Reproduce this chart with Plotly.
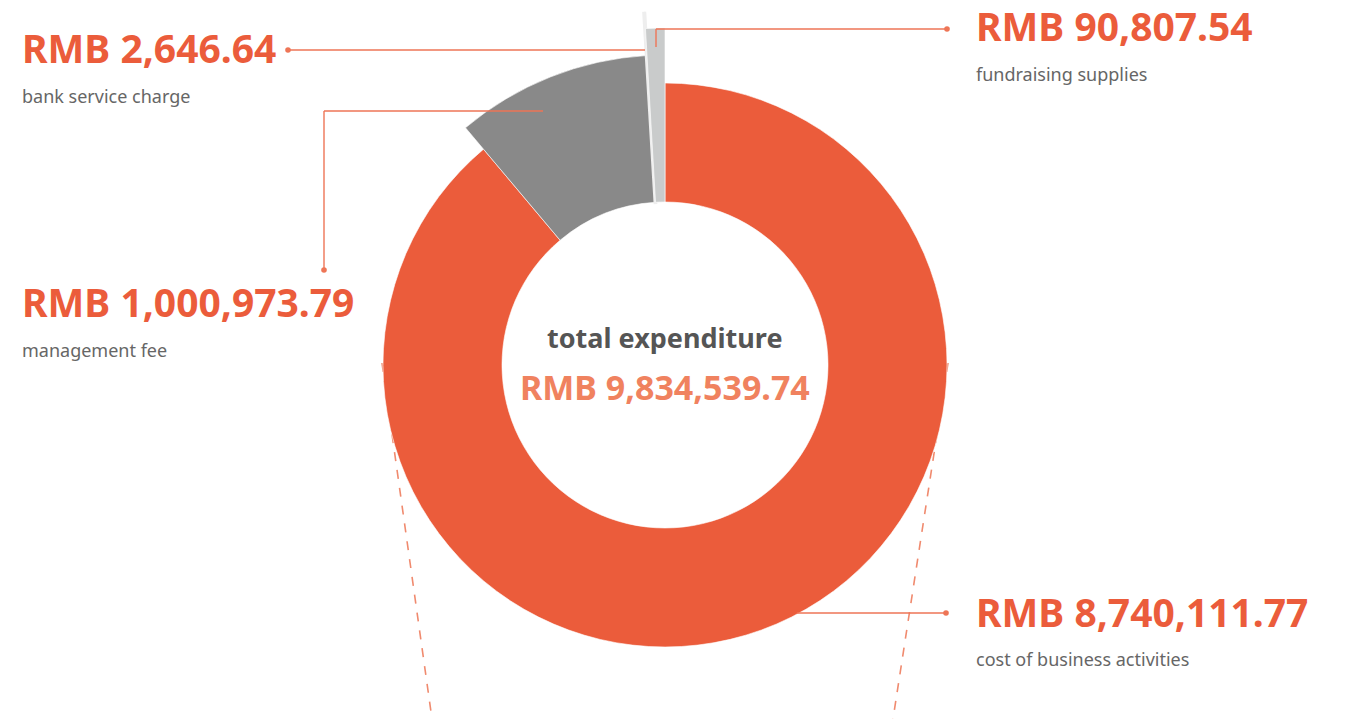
import plotly.graph_objects as go

# ---- data ----
categories = ["cost of business activities", "management fee", "bank service charge", "fundraising supplies"]
values = [8740111.77, 1000973.79, 2646.64, 90807.54]
total_label = "total expenditure"
total_value = 9834539.74

# ---- style ----
W, H = 1354, 719
CX, CY = 665, 365          # donut centre in pixels
R_DOM = 354                # radius of polar area in pixels
INNER = 163                # hole radius in pixels
outer_r = [282, 310, 358, 337]
colors = ["#EB5C3B", "#898989", "#EEEEEE", "#C9CBCB"]
line_colors = ["#FFFFFF", "#FFFFFF", "#EEEEEE", "#FFFFFF"]
line_widths = [0.6, 0.6, 3.5, 0.6]
ORANGE = "#EB5C3B"
LEAD = "#EE7556"
FONT = "Noto Sans"

tot = sum(values)
widths = [v / tot * 360 for v in values]
thetas = []
acc = 0
for w in widths:
    thetas.append(acc + w / 2)
    acc += w

fig = go.Figure()
fig.add_trace(go.Barpolar(
    theta=thetas,
    width=widths,
    r=[o - INNER for o in outer_r],
    base=[INNER] * len(values),
    marker=dict(color=colors, line=dict(color=line_colors, width=line_widths)),
    text=categories,
    hoverinfo="text",
    showlegend=False,
))

def px(x):
    return x / W

def py(y):
    return 1 - y / H

shapes = []
# dashed connector lines (below the donut)
for x0, y0, x1, y1 in [(382, 363, 432, 719), (948, 363, 893, 719)]:
    shapes.append(dict(type="line", xref="paper", yref="paper", layer="below",
                       x0=px(x0), y0=py(y0), x1=px(x1), y1=py(y1),
                       line=dict(color="#F08A6E", width=1.6, dash="dash")))

def seg(x0, y0, x1, y1):
    shapes.append(dict(type="line", xref="paper", yref="paper", layer="above",
                       x0=px(x0), y0=py(y0), x1=px(x1), y1=py(y1),
                       line=dict(color=LEAD, width=1.4)))

def dot(x, y, r=2.8):
    shapes.append(dict(type="circle", xref="paper", yref="paper", layer="above",
                       x0=px(x - r), y0=py(y - r), x1=px(x + r), y1=py(y + r),
                       fillcolor=LEAD, line=dict(width=0)))

# bank service charge
seg(288, 50, 645, 50); dot(288, 50)
# fundraising supplies
seg(656, 29, 947, 29); seg(656, 29, 656, 47); dot(947, 29)
# management fee
seg(324, 111, 543, 111); seg(324, 111, 324, 270); dot(324, 270)
# cost of business activities
seg(797, 613, 946, 613); dot(946, 613)

fig.update_layout(shapes=shapes)

def fmt(v):
    return "RMB {:,.2f}".format(v)

labels_pos = [
    # (index, x, y_value, y_sub)
    (0, 974, 611, 659),
    (1, 20, 301, 350),
    (2, 20, 47, 96),
    (3, 974, 26, 74),
]
for i, x, yv, ys in labels_pos:
    fig.add_annotation(x=px(x), y=py(yv), xref="paper", yref="paper", xanchor="left", yanchor="middle",
                       text="<b>" + fmt(values[i]) + "</b>", showarrow=False,
                       font=dict(family=FONT, size=39, color=ORANGE))
    fig.add_annotation(x=px(x), y=py(ys), xref="paper", yref="paper", xanchor="left", yanchor="middle",
                       text=categories[i], showarrow=False,
                       font=dict(family=FONT, size=18, color="#666666"))

fig.add_annotation(x=px(CX), y=py(337), xref="paper", yref="paper", xanchor="center", yanchor="middle",
                   text="<b>" + total_label + "</b>", showarrow=False,
                   font=dict(family=FONT, size=27, color="#555555"))
fig.add_annotation(x=px(CX), y=py(387), xref="paper", yref="paper", xanchor="center", yanchor="middle",
                   text="<b>" + fmt(total_value) + "</b>", showarrow=False,
                   font=dict(family=FONT, size=34, color="#F0825F"))

fig.update_layout(
    width=W, height=H,
    margin=dict(l=0, r=0, t=0, b=0),
    paper_bgcolor="white",
    plot_bgcolor="white",
    polar=dict(
        domain=dict(x=[px(CX - R_DOM), px(CX + R_DOM)], y=[py(CY + R_DOM), py(CY - R_DOM)]),
        bgcolor="rgba(0,0,0,0)",
        hole=0,
        angularaxis=dict(rotation=90, direction="clockwise", visible=False, showgrid=False),
        radialaxis=dict(range=[0, R_DOM], visible=False, showgrid=False),
    ),
    showlegend=False,
)

fig.write_html("out.html", config={"displayModeBar": False},
               post_script="document.body.style.margin='0px';")
